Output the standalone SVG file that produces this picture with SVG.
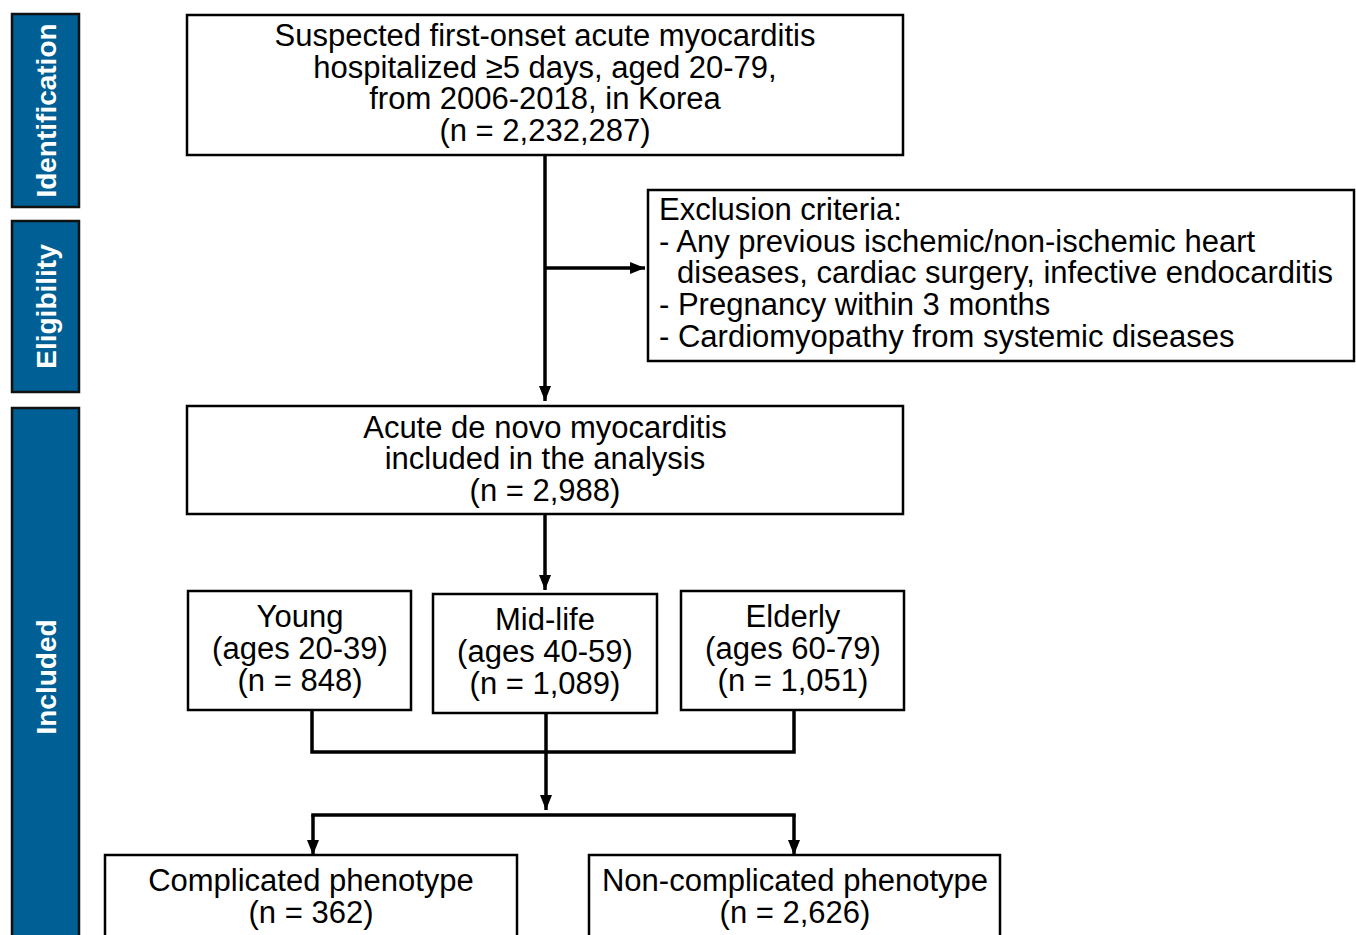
<svg xmlns="http://www.w3.org/2000/svg" width="1356" height="935" viewBox="0 0 1356 935">
<style>
.bar{fill:#005f95;stroke:#111;stroke-width:2.5}
.box{fill:#fff;stroke:#000;stroke-width:2.5}
.bt{font-family:"Liberation Sans",Arial,sans-serif;font-weight:bold;font-size:28px;fill:#fff;text-anchor:middle}
.t{font-family:"Liberation Sans",Arial,sans-serif;font-size:31px;fill:#000;text-anchor:middle}
.tl{font-family:"Liberation Sans",Arial,sans-serif;font-size:31px;fill:#000}
.c{fill:none;stroke:#000;stroke-width:3.5}
</style>
<defs>
<marker id="ah" markerUnits="userSpaceOnUse" markerWidth="16" markerHeight="16" viewBox="0 0 16 16" refX="15" refY="8" orient="auto">
<path d="M0,2 L15,8 L0,14 Z" fill="#000"/>
</marker>
</defs>
<rect width="1356" height="935" fill="#fff"/>
<g id="side-identification">
<rect class="bar" x="12" y="14" width="67" height="193"/>
<text class="bt" transform="translate(56,110.5) rotate(-90)">Identification</text>
</g>
<g id="side-eligibility">
<rect class="bar" x="12" y="221" width="67" height="171"/>
<text class="bt" transform="translate(56,306.5) rotate(-90)">Eligibility</text>
</g>
<g id="side-included">
<rect class="bar" x="12" y="408" width="67" height="540"/>
<text class="bt" transform="translate(56,677) rotate(-90)">Included</text>
</g>
<g id="connectors">
<line class="c" x1="545" y1="155" x2="545" y2="401" marker-end="url(#ah)"/>
<line class="c" x1="545" y1="268" x2="645" y2="268" marker-end="url(#ah)"/>
<line class="c" x1="545" y1="514" x2="545" y2="590" marker-end="url(#ah)"/>
<polyline class="c" points="312,710 312,752 794,752 794,710"/>
<line class="c" x1="546" y1="713" x2="546" y2="810" marker-end="url(#ah)"/>
<line class="c" x1="311.25" y1="815" x2="795.75" y2="815"/>
<line class="c" x1="313" y1="815" x2="313" y2="855" marker-end="url(#ah)"/>
<line class="c" x1="794" y1="815" x2="794" y2="855" marker-end="url(#ah)"/>
</g>
<g id="box-suspected">
<rect class="box" x="187" y="15" width="716" height="140"/>
<text class="t" x="545" y="46">Suspected first-onset acute myocarditis</text>
<text class="t" x="545" y="78">hospitalized ≥5 days, aged 20-79,</text>
<text class="t" x="545" y="109">from 2006-2018, in Korea</text>
<text class="t" x="545" y="141">(n = 2,232,287)</text>
</g>
<g id="box-exclusion">
<rect class="box" x="648" y="190" width="706" height="171"/>
<text class="tl" x="659" y="220">Exclusion criteria:</text>
<text class="tl" x="659" y="252">- Any previous ischemic/non-ischemic heart</text>
<text class="tl" x="677" y="283">diseases, cardiac surgery, infective endocarditis</text>
<text class="tl" x="659" y="315">- Pregnancy within 3 months</text>
<text class="tl" x="659" y="347">- Cardiomyopathy from systemic diseases</text>
</g>
<g id="box-included">
<rect class="box" x="187" y="406" width="716" height="108"/>
<text class="t" x="545" y="438">Acute de novo myocarditis</text>
<text class="t" x="545" y="469">included in the analysis</text>
<text class="t" x="545" y="501">(n = 2,988)</text>
</g>
<g id="box-young">
<rect class="box" x="188" y="591" width="223" height="119"/>
<text class="t" x="300" y="627">Young</text>
<text class="t" x="300" y="659">(ages 20-39)</text>
<text class="t" x="300" y="691">(n = 848)</text>
</g>
<g id="box-midlife">
<rect class="box" x="433" y="594" width="224" height="119"/>
<text class="t" x="545" y="630">Mid-life</text>
<text class="t" x="545" y="662">(ages 40-59)</text>
<text class="t" x="545" y="694">(n = 1,089)</text>
</g>
<g id="box-elderly">
<rect class="box" x="681" y="591" width="223" height="119"/>
<text class="t" x="793" y="627">Elderly</text>
<text class="t" x="793" y="659">(ages 60-79)</text>
<text class="t" x="793" y="691">(n = 1,051)</text>
</g>
<g id="box-complicated">
<rect class="box" x="105" y="855" width="412" height="100"/>
<text class="t" x="311" y="891">Complicated phenotype</text>
<text class="t" x="311" y="923">(n = 362)</text>
</g>
<g id="box-noncomplicated">
<rect class="box" x="589" y="855" width="411" height="100"/>
<text class="t" x="795" y="891">Non-complicated phenotype</text>
<text class="t" x="795" y="923">(n = 2,626)</text>
</g>
</svg>
